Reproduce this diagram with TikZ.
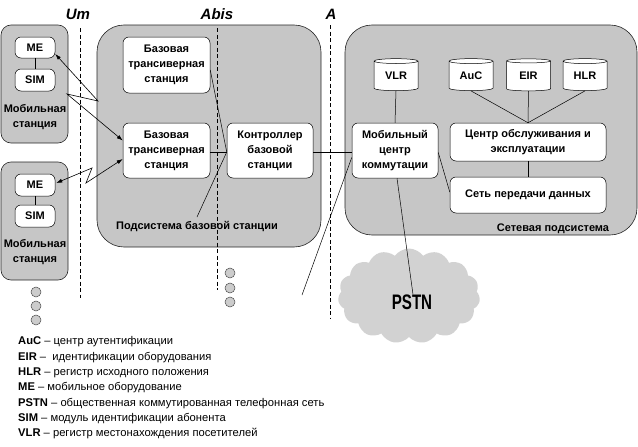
\documentclass[tikz,border=0pt]{standalone}
\usepackage{fontspec}
\setmainfont{Liberation Sans}
\newfontfamily\pstnfont{Liberation Sans}[FakeStretch=0.72]
\usetikzlibrary{shapes.geometric,shapes.symbols,arrows.meta}
\begin{document}
\begin{tikzpicture}[x=1pt,y=-1pt,
  sub/.style={draw=black!85, fill=gray!45, rounded corners=27pt, line width=0.6pt},
  ms/.style={draw=black!85, fill=gray!45, rounded corners=10pt, line width=0.6pt, minimum width=67pt, minimum height=118pt, inner sep=0pt},
  wbox/.style={draw=black, fill=white, rounded corners=6pt, line width=0.5pt, align=center, inner sep=1pt,
     font=\bfseries\fontsize{11}{15}\selectfont},
  db/.style={cylinder, shape border rotate=90, aspect=0.22, draw=black, fill=white, line width=0.5pt,
     minimum width=44pt, minimum height=32pt, inner sep=0pt, font=\bfseries\fontsize{11}{13}\selectfont},
  lbl/.style={font=\bfseries\fontsize{11}{15}\selectfont, align=center, inner sep=0pt},
  iface/.style={font=\bfseries\itshape\fontsize{15}{15}\selectfont, inner sep=0pt},
  ifline/.style={dashed, line width=0.6pt, dash pattern=on 4pt off 2.5pt},
  link/.style={line width=0.5pt},
  radio/.style={line width=0.6pt, {Latex[length=6pt,width=4pt]}-{Latex[length=6pt,width=4pt]}},
  dot/.style={circle, draw=black!70, fill=gray!40, minimum size=10pt, inner sep=0pt, line width=0.5pt},
  legtext/.style={anchor=west, inner sep=0pt, font=\fontsize{11.2}{12}\selectfont}
]
\useasboundingbox (0,0) rectangle (638,447);

% interface labels and lines
\node[iface] (um) at (78,14) {Um};
\node[iface] (abis) at (217,14) {Abis};
\node[iface] (a) at (331,14) {A};
\coordinate (um1) at (80,28); \coordinate (um2) at (80,298);
\coordinate (ab1) at (217,28); \coordinate (ab2) at (217,290);
\coordinate (a1) at (330,25); \coordinate (a2) at (330,318);

% subsystem backgrounds
\node[sub, minimum width=224pt, minimum height=222pt, inner sep=0pt] (bss) at (209,136) {};
\node[sub, minimum width=292pt, minimum height=210pt, inner sep=0pt] (nss) at (491,130) {};
\node[ms] (ms1) at (34.5,84) {};
\node[ms] (ms2) at (34.5,221) {};

\draw[ifline] (um1) -- (um2);
\draw[ifline] (ab1) -- (ab2);
\draw[ifline] (a1) -- (a2);

% mobile stations
\node[wbox, minimum width=40pt, minimum height=21pt] (me1) at (35,47.5) {ME};
\node[wbox, minimum width=40pt, minimum height=22pt] (sim1) at (35,80) {SIM};
\node[lbl] (ms1lbl) at (35,117) {Мобильная\\станция};
\node[wbox, minimum width=40pt, minimum height=22pt] (me2) at (35,185) {ME};
\node[wbox, minimum width=40pt, minimum height=22pt] (sim2) at (35,216) {SIM};
\node[lbl] (ms2lbl) at (35,252) {Мобильная\\станция};
\draw[link] (me1) -- (sim1);
\draw[link] (me2) -- (sim2);

% BSS
\node[wbox, minimum width=87pt, minimum height=56pt] (bts1) at (166.5,65) {Базовая\\трансиверная\\станция};
\node[wbox, minimum width=87pt, minimum height=55pt] (bts2) at (166.5,150.5) {Базовая\\трансиверная\\станция};
\node[wbox, minimum width=86pt, minimum height=55pt] (bsc) at (270,150.5) {Контроллер\\базовой\\станции};
\node[lbl] (bsslbl) at (197,227) {Подсистема базовой станции};

% NSS
\node[db] (vlr) at (396,76) {VLR};
\node[db] (auc) at (471,76) {AuC};
\node[db] (eir) at (528.5,76) {EIR};
\node[db] (hlr) at (585,76) {HLR};
\node[wbox, minimum width=86pt, minimum height=55pt] (msc) at (395,150.5) {Мобильный\\центр\\коммутации};
\node[wbox, minimum width=156pt, minimum height=38pt] (omc) at (528,142) {Центр обслуживания и\\эксплуатации};
\node[wbox, minimum width=156pt, minimum height=36pt] (dn) at (528,195) {Сеть передачи данных};
\node[lbl] (nsslbl) at (553,229) {Сетевая подсистема};

% PSTN
\node[cloud, cloud puffs=15, cloud puff arc=110, aspect=1.6, fill=gray!35, draw=none,
      minimum width=142pt, minimum height=95pt, inner sep=0pt] (cloud) at (409,296) {};
\node[inner sep=0pt, font=\pstnfont\bfseries\fontsize{21}{21}\selectfont] (pstn) at (412,302) {PSTN};

% links
\draw[link] (vlr.south) -- (msc.north);
\draw[link] (auc.south) -- (omc.north);
\draw[link] (eir.south) -- (omc.north);
\draw[link] (hlr.south) -- (omc.north);
\draw[link] (omc.south) -- (dn.north);
\draw[link] ([yshift=-2pt]msc.east) -- ([yshift=3pt]dn.west);
\draw[link] ([yshift=-1.5pt]bsc.east) -- ([yshift=-1.5pt]msc.west);
\draw[link] ([yshift=-1.5pt]bts2.east) -- ([yshift=-1.5pt]bsc.west);
\draw[link] ([yshift=-5pt]bts1.east) -- ([yshift=-1.5pt]bsc.west);
\coordinate (bscoff) at (197,217);
\draw[link] ([yshift=-1.5pt]bsc.west) -- (bscoff);
\coordinate (mscoff) at (302,295);
\draw[link] ([yshift=-7pt]msc.west) -- (mscoff);
\draw[link] ([xshift=2pt]msc.south) -- ([xshift=1pt]pstn.north);

% radio links
\coordinate (z1) at (98,101);
\coordinate (z2) at (67,94);
\draw[radio] ([yshift=-6.5pt]me1.east) -- (z1) -- (z2) -- ([yshift=10pt]bts2.west);
\coordinate (z3) at (92,168);
\coordinate (z4) at (86,183);
\draw[radio] ([xshift=1pt,yshift=2pt]me2.east) -- (z3) -- (z4) -- ([yshift=-8.5pt]bts2.west);

% dots
\node[dot] (d1) at (36,292) {};
\node[dot] (d2) at (36,306) {};
\node[dot] (d3) at (36,320) {};
\node[dot] (d4) at (230,273) {};
\node[dot] (d5) at (230,288) {};
\node[dot] (d6) at (230,302) {};

% legend
\node[legtext] (l1) at (18,342) {\textbf{AuC} – центр аутентификации};
\node[legtext] (l2) at (18,357.3) {\textbf{EIR} –\ \ идентификации оборудования};
\node[legtext] (l3) at (18,372.6) {\textbf{HLR} – регистр исходного положения};
\node[legtext] (l4) at (18,387.9) {\textbf{ME} – мобильное оборудование};
\node[legtext] (l5) at (18,403.2) {\textbf{PSTN} – общественная коммутированная телефонная сеть};
\node[legtext] (l6) at (18,418.5) {\textbf{SIM} – модуль идентификации абонента};
\node[legtext] (l7) at (18,433.8) {\textbf{VLR} – регистр местонахождения посетителей};
\end{tikzpicture}
\end{document}
